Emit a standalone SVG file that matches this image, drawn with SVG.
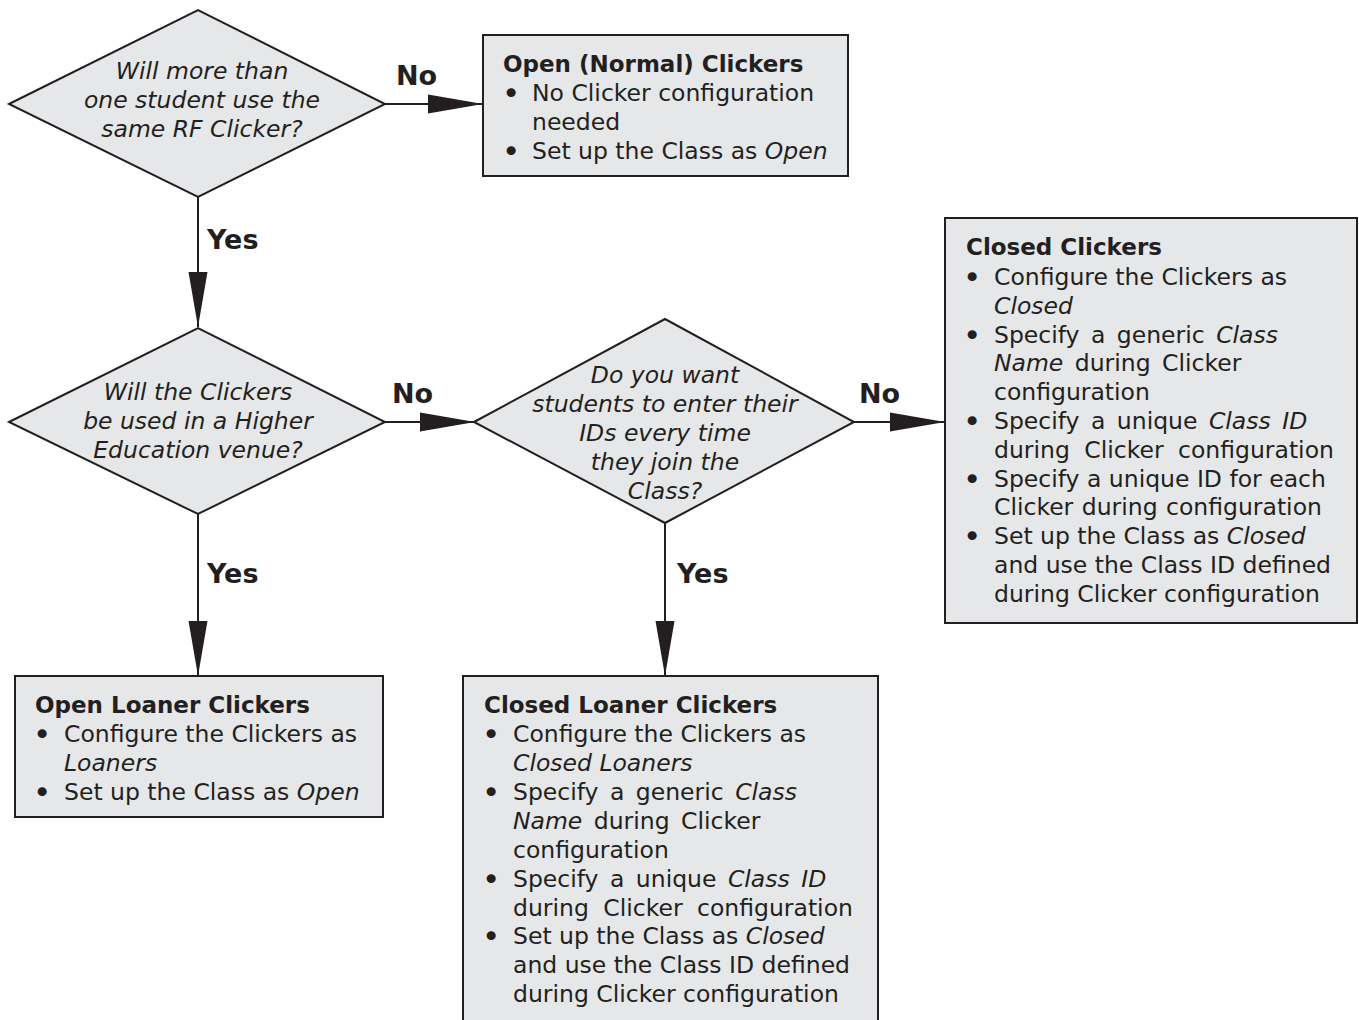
<svg xmlns="http://www.w3.org/2000/svg" width="1359" height="1020" viewBox="0 0 1359 1020">
<style>
.shape{fill:#e6e7e8;stroke:#231f20;stroke-width:2}
.t{font-family:"DejaVu Sans",Verdana,sans-serif;font-size:23.5px;fill:#231f20}
.q{font-style:italic;text-anchor:middle}
.b{font-weight:bold;font-size:23px}
.bu{font-family:"DejaVu Sans",Verdana,sans-serif;font-size:31px;fill:#231f20}
.lbl{font-family:"DejaVu Sans",Verdana,sans-serif;font-size:27px;font-weight:bold;fill:#231f20}
.i{font-style:italic}
.conn{stroke:#231f20;stroke-width:2;fill:none}
</style>
<defs>
<marker id="ah" markerUnits="userSpaceOnUse" markerWidth="56" markerHeight="20" refX="55" refY="10" orient="auto">
<path d="M0,0.5 L55,10 L0,19.5 Z" fill="#231f20"/>
</marker>
</defs>
<rect width="1359" height="1020" fill="#ffffff"/>
<g id="connectors">
<line class="conn" x1="385" y1="104" x2="483" y2="104" marker-end="url(#ah)"/>
<line class="conn" x1="198" y1="197" x2="198" y2="327" marker-end="url(#ah)"/>
<line class="conn" x1="385" y1="422" x2="475" y2="422" marker-end="url(#ah)"/>
<line class="conn" x1="854" y1="422" x2="945" y2="422" marker-end="url(#ah)"/>
<line class="conn" x1="198" y1="514" x2="198" y2="676" marker-end="url(#ah)"/>
<line class="conn" x1="665" y1="523" x2="665" y2="676" marker-end="url(#ah)"/>
<text class="lbl" x="396" y="85">No</text>
<text class="lbl" x="207" y="249">Yes</text>
<text class="lbl" x="392" y="403">No</text>
<text class="lbl" x="859" y="403">No</text>
<text class="lbl" x="207" y="583">Yes</text>
<text class="lbl" x="677" y="583">Yes</text>
</g>
<g id="q1">
<polygon class="shape" points="9,104 198,10 385,104 198,197"/>
<text class="t q" x="202" y="79">Will more than</text>
<text class="t q" x="202" y="108">one student use the</text>
<text class="t q" x="202" y="137">same RF Clicker?</text>
</g>
<g id="open-normal">
<rect class="shape" x="483" y="35" width="365" height="141"/>
<text class="t b" x="503" y="72">Open (Normal) Clickers</text>
<text class="bu" x="502" y="103.5">•</text><text class="t" x="532" y="101">No Clicker configuration</text>
<text class="t" x="532" y="130">needed</text>
<text class="bu" x="502" y="161.5">•</text><text class="t" x="532" y="159">Set up the Class as <tspan class="i">Open</tspan></text>
</g>
<g id="q2">
<polygon class="shape" points="9,422 198,328 385,422 198,514"/>
<text class="t q" x="198" y="400">Will the Clickers</text>
<text class="t q" x="198" y="429">be used in a Higher</text>
<text class="t q" x="198" y="458">Education venue?</text>
</g>
<g id="q3">
<polygon class="shape" points="474,422 665,319 854,422 665,523"/>
<text class="t q" x="665" y="383">Do you want</text>
<text class="t q" x="665" y="412">students to enter their</text>
<text class="t q" x="665" y="441">IDs every time</text>
<text class="t q" x="665" y="470">they join the</text>
<text class="t q" x="665" y="499">Class?</text>
</g>
<g id="closed">
<rect class="shape" x="945" y="218" width="412" height="405"/>
<text class="t b" x="966" y="255">Closed Clickers</text>
<text class="bu" x="963" y="287.5">•</text><text class="t" x="994" y="285">Configure the Clickers as</text>
<text class="t i" x="994" y="314">Closed</text>
<text class="bu" x="963" y="345.5">•</text><text class="t" x="994" y="343" word-spacing="4">Specify a generic <tspan class="i">Class</tspan></text>
<text class="t" x="994" y="371" word-spacing="4"><tspan class="i">Name</tspan> during Clicker</text>
<text class="t" x="994" y="400">configuration</text>
<text class="bu" x="963" y="431.5">•</text><text class="t" x="994" y="429" word-spacing="4">Specify a unique <tspan class="i">Class ID</tspan></text>
<text class="t" x="994" y="458" word-spacing="7">during Clicker configuration</text>
<text class="bu" x="963" y="489.5">•</text><text class="t" x="994" y="487">Specify a unique ID for each</text>
<text class="t" x="994" y="515" word-spacing="1">Clicker during configuration</text>
<text class="bu" x="963" y="546.5">•</text><text class="t" x="994" y="544">Set up the Class as <tspan class="i">Closed</tspan></text>
<text class="t" x="994" y="573">and use the Class ID defined</text>
<text class="t" x="994" y="602">during Clicker configuration</text>
</g>
<g id="open-loaner">
<rect class="shape" x="15" y="676" width="368" height="141"/>
<text class="t b" x="35" y="713">Open Loaner Clickers</text>
<text class="bu" x="33" y="744.5">•</text><text class="t" x="64" y="742">Configure the Clickers as</text>
<text class="t i" x="64" y="771">Loaners</text>
<text class="bu" x="33" y="802.5">•</text><text class="t" x="64" y="800">Set up the Class as <tspan class="i">Open</tspan></text>
</g>
<g id="closed-loaner">
<rect class="shape" x="463" y="676" width="415" height="360"/>
<text class="t b" x="484" y="713">Closed Loaner Clickers</text>
<text class="bu" x="482" y="744.5">•</text><text class="t" x="513" y="742">Configure the Clickers as</text>
<text class="t i" x="513" y="771">Closed Loaners</text>
<text class="bu" x="482" y="802.5">•</text><text class="t" x="513" y="800" word-spacing="4">Specify a generic <tspan class="i">Class</tspan></text>
<text class="t" x="513" y="829" word-spacing="4"><tspan class="i">Name</tspan> during Clicker</text>
<text class="t" x="513" y="858">configuration</text>
<text class="bu" x="482" y="889.5">•</text><text class="t" x="513" y="887" word-spacing="4">Specify a unique <tspan class="i">Class ID</tspan></text>
<text class="t" x="513" y="916" word-spacing="7">during Clicker configuration</text>
<text class="bu" x="482" y="946.5">•</text><text class="t" x="513" y="944">Set up the Class as <tspan class="i">Closed</tspan></text>
<text class="t" x="513" y="973">and use the Class ID defined</text>
<text class="t" x="513" y="1002">during Clicker configuration</text>
</g>
</svg>
